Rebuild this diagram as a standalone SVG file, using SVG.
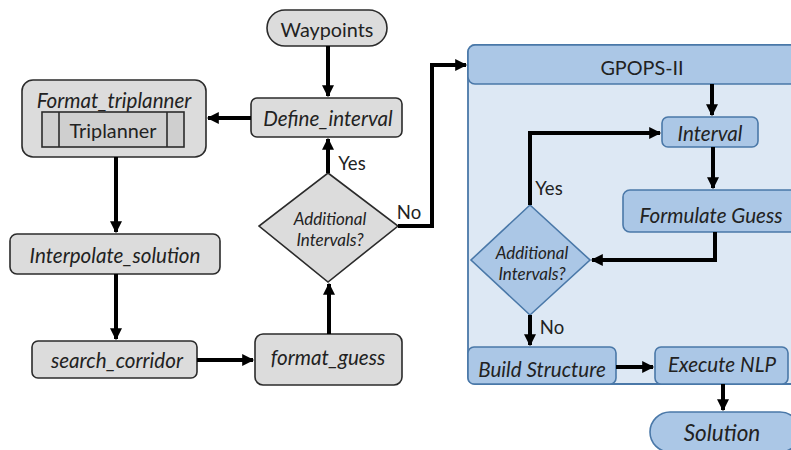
<svg xmlns="http://www.w3.org/2000/svg" width="791" height="450" viewBox="0 0 791 450">
<defs>
<marker id="ah" viewBox="0 0 10 10" refX="9" refY="5" markerWidth="3.2" markerHeight="3" orient="auto" markerUnits="strokeWidth">
<path d="M0,0 L10,5 L0,10 z" fill="#000"/>
</marker>
<style>
.g{fill:#dcdcdc;stroke:#2b2b2b;stroke-width:1.6}
.b{fill:#abc7e6;stroke:#4a78a8;stroke-width:1.6}
.c{fill:none;stroke:#000;stroke-width:4;marker-end:url(#ah)}
text{font-family:Lato,"Open Sans","Liberation Sans",sans-serif;fill:#222;text-anchor:middle;dominant-baseline:central}
.t{font-size:19.8px}
.i{font-style:italic;font-size:20.6px}
.s{font-style:italic;font-size:17px}
.y{font-size:18.5px}
</style>
</defs>
<rect width="791" height="450" fill="#fff"/>

<g id="gpops">
<rect x="468" y="45" width="330" height="339" rx="7" fill="#dde8f4" stroke="#4a78a8" stroke-width="1.8"/>
<rect x="468" y="45" width="330" height="39" rx="7" class="b"/>
<text x="642" y="67" class="t">GPOPS-II</text>
</g>

<g id="waypoints">
<rect x="267" y="10" width="120" height="36" rx="18" class="g"/>
<text x="327" y="29" class="t">Waypoints</text>
</g>
<g id="define_interval">
<rect x="251" y="98" width="151" height="39" rx="6" class="g"/>
<text x="328" y="118" class="i">Define_interval</text>
</g>
<g id="format_triplanner">
<rect x="22" y="80" width="184" height="77" rx="11" class="g"/>
<text x="114" y="100" class="i">Format_triplanner</text>
<rect x="42" y="112" width="142" height="35" fill="#cfcfcf" stroke="#2b2b2b" stroke-width="1.6"/>
<line x1="59" y1="112" x2="59" y2="147" stroke="#2b2b2b" stroke-width="1.6"/>
<line x1="167" y1="112" x2="167" y2="147" stroke="#2b2b2b" stroke-width="1.6"/>
<text x="113" y="130" class="t">Triplanner</text>
</g>
<g id="interpolate_solution">
<rect x="10" y="234" width="210" height="40" rx="7" class="g"/>
<text x="115" y="255" class="i">Interpolate_solution</text>
</g>
<g id="search_corridor">
<rect x="32" y="341" width="165" height="37" rx="6" class="g"/>
<text x="117" y="360" class="i">search_corridor</text>
</g>
<g id="format_guess">
<rect x="255" y="334" width="147" height="51" rx="8" class="g"/>
<text x="328" y="357" class="i">format_guess</text>
</g>
<g id="decision1">
<polygon points="328,173 398,226 328,282 259,226" class="g"/>
<text x="330" y="218" class="s">Additional</text>
<text x="330" y="239" class="s">Intervals?</text>
</g>

<g id="interval">
<rect x="662" y="117" width="96" height="30" rx="6" class="b"/>
<text x="710" y="133" class="i">Interval</text>
</g>
<g id="formulate_guess">
<rect x="623" y="190" width="175" height="42" rx="7" class="b"/>
<text x="711" y="215" class="i">Formulate Guess</text>
</g>
<g id="decision2">
<polygon points="530,205 590,260 530,315 471,260" class="b"/>
<text x="532" y="252" class="s">Additional</text>
<text x="532" y="273" class="s">Intervals?</text>
</g>
<g id="build_structure">
<rect x="468" y="347" width="148" height="37" rx="6" class="b"/>
<text x="542" y="369" class="i">Build Structure</text>
</g>
<g id="execute_nlp">
<rect x="655" y="347" width="133" height="37" rx="6" class="b"/>
<text x="722" y="364" class="i">Execute NLP</text>
</g>
<g id="solution">
<rect x="650" y="412" width="150" height="40" rx="20" class="b"/>
<text x="722" y="432" class="i" style="font-size:22.5px">Solution</text>
</g>

<g id="connectors">
<path class="c" d="M328,46 V96"/>
<path class="c" d="M251,118 H208"/>
<path class="c" d="M116,157 V232"/>
<path class="c" d="M116,274 V339"/>
<path class="c" d="M197,360 H253"/>
<path class="c" d="M329,334 V284"/>
<path class="c" d="M328,173 V139"/>
<path class="c" d="M398,226 H432 V65 H466"/>
<path class="c" d="M712,84 V115"/>
<path class="c" d="M713,147 V188"/>
<path class="c" d="M715,232 V260 H592"/>
<path class="c" d="M530,205 V133 H660"/>
<path class="c" d="M530,315 V345"/>
<path class="c" d="M616,367 H653"/>
<path class="c" d="M723,384 V410"/>
<text x="352" y="163" class="y">Yes</text>
<text x="409" y="212" class="y">No</text>
<text x="549" y="188" class="y">Yes</text>
<text x="552" y="327" class="y">No</text>
</g>
</svg>
